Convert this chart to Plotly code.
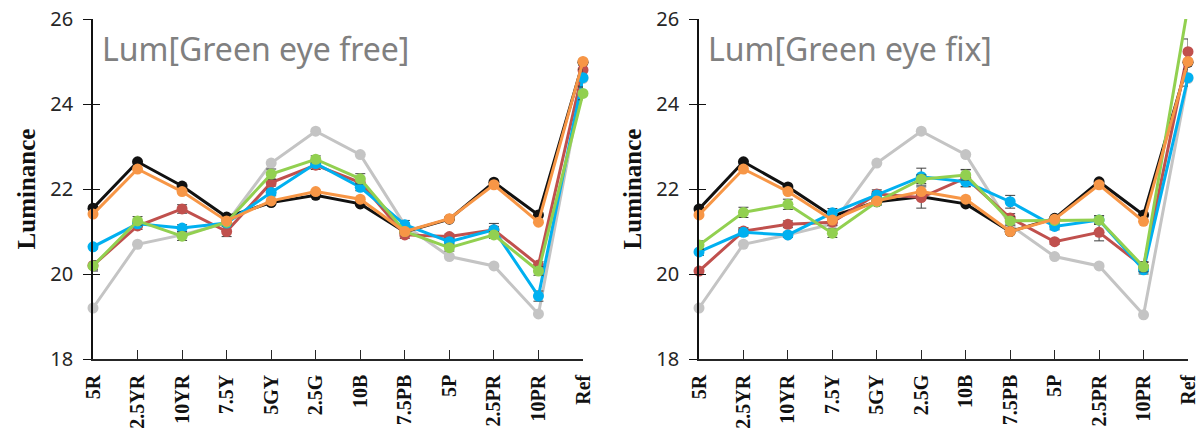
import plotly.graph_objects as go

# Munsell hue categories on the x axis
categories = ["5R", "2.5YR", "10YR", "7.5Y", "5GY", "2.5G", "10B",
              "7.5PB", "5P", "2.5PR", "10PR", "Ref"]
y_ticks = [18, 20, 22, 24, 26]

# ---- Lum[Green eye free] ----
free_black = [21.55, 22.64, 22.07, 21.34, 21.68, 21.85, 21.65, 20.99, 21.29, 22.16, 21.39, 24.98]
free_orange = [21.41, 22.47, 21.94, 21.25, 21.72, 21.94, 21.76, 21.00, 21.30, 22.10, 21.22, 25.00]
free_gray = [19.20, 20.70, 20.92, 21.20, 22.61, 23.36, 22.81, 21.15, 20.41, 20.19, 19.06, 24.60]
free_green = [20.19, 21.25, 20.89, 21.22, 22.35, 22.70, 22.24, 21.00, 20.62, 20.92, 20.07, 24.25]
free_red = [20.20, 21.13, 21.53, 21.00, 22.15, 22.56, 22.15, 20.92, 20.88, 21.04, 20.21, 24.80]
free_blue = [20.64, 21.18, 21.08, 21.20, 21.92, 22.60, 22.04, 21.16, 20.76, 21.04, 19.48, 24.62]
free_green_err = [0.12, 0.10, 0.10, 0.05, 0.12, 0.08, 0.12, 0.05, 0.08, 0.08, 0.10, 0.15]
free_red_err = [0.10, 0.08, 0.10, 0.12, 0.08, 0.10, 0.08, 0.08, 0.06, 0.08, 0.08, 0.12]
free_blue_err = [0.05, 0.05, 0.08, 0.05, 0.08, 0.05, 0.08, 0.10, 0.08, 0.15, 0.12, 0.20]

# ---- Lum[Green eye fix] ----
fix_black = [21.53, 22.64, 22.05, 21.36, 21.70, 21.82, 21.65, 21.00, 21.31, 22.17, 21.39, 24.98]
fix_orange = [21.39, 22.47, 21.94, 21.27, 21.72, 21.94, 21.76, 21.00, 21.29, 22.10, 21.24, 25.00]
fix_gray = [19.20, 20.70, 20.92, 21.18, 22.61, 23.36, 22.81, 21.15, 20.41, 20.19, 19.04, 24.60]
fix_green = [20.68, 21.45, 21.64, 20.96, 21.70, 22.23, 22.33, 21.25, 21.26, 21.27, 20.17, 26.30]
fix_red = [20.07, 21.01, 21.17, 21.22, 21.88, 21.80, 22.26, 21.32, 20.76, 20.98, 20.17, 25.23]
fix_blue = [20.52, 20.98, 20.92, 21.44, 21.86, 22.29, 22.17, 21.70, 21.12, 21.27, 20.10, 24.62]
fix_green_err = [0.10, 0.12, 0.12, 0.10, 0.08, 0.10, 0.12, 0.10, 0.06, 0.10, 0.12, 0.15]
fix_red_err = [0.08, 0.08, 0.08, 0.08, 0.10, 0.25, 0.20, 0.10, 0.06, 0.20, 0.10, 0.30]
fix_blue_err = [0.08, 0.08, 0.06, 0.10, 0.08, 0.20, 0.12, 0.15, 0.08, 0.10, 0.10, 0.20]

C_BLACK = "#111111"
C_ORANGE = "#F79646"
C_GRAY = "#C4C4C4"
C_GREEN = "#92D050"
C_RED = "#C0504D"
C_BLUE = "#00B0F0"
ERR_COLOR = "#3F3F3F"

W, H = 1197, 432
PLOT_TOP, PLOT_BOTTOM = 19, 359
panels = [
    dict(name="Lum[Green eye free]", left=93, right=583, xa="x", ya="y", ya_in="y3",
         series=[(free_gray, C_GRAY, None), (free_black, C_BLACK, None),
                 (free_red, C_RED, free_red_err), (free_blue, C_BLUE, free_blue_err),
                 (free_green, C_GREEN, free_green_err), (free_orange, C_ORANGE, None)]),
    dict(name="Lum[Green eye fix]", left=699, right=1188, xa="x2", ya="y2", ya_in="y4",
         series=[(fix_gray, C_GRAY, None), (fix_black, C_BLACK, None),
                 (fix_red, C_RED, fix_red_err), (fix_blue, C_BLUE, fix_blue_err),
                 (fix_green, C_GREEN, fix_green_err), (fix_orange, C_ORANGE, None)]),
]

fig = go.Figure()
for p in panels:
    for vals, color, err in p["series"]:
        # the green "fix" series overshoots the top of the scale at Ref
        clip = vals is fix_green
        fig.add_trace(go.Scatter(
            x=categories, y=vals, mode="lines+markers",
            xaxis=p["xa"], yaxis=p["ya"],
            line=dict(color=color, width=3),
            marker=dict(color=color, size=11),
            error_y=None if err is None else dict(
                type="data", array=err, visible=True,
                color=ERR_COLOR, thickness=1, width=5),
            cliponaxis=clip, showlegend=False, hoverinfo="skip",
        ))
    # empty trace that registers the overlay axis carrying the inner y ticks
    fig.add_trace(go.Scatter(x=[], y=[], xaxis=p["xa"], yaxis=p["ya_in"],
                             showlegend=False, hoverinfo="skip"))

ydom = [1 - PLOT_BOTTOM / H, 1 - PLOT_TOP / H]
tick_font = dict(family="Noto Sans", size=20, color="#262626")
cat_font = dict(family="Liberation Serif", size=20, color="#111111", weight="bold")

layout = dict(
    width=W, height=H,
    margin=dict(l=0, r=0, t=0, b=0),
    paper_bgcolor="white", plot_bgcolor="white",
    showlegend=False,
)
for i, p in enumerate(panels):
    xs = "" if i == 0 else "2"
    ys = "" if i == 0 else "2"
    yin = "3" if i == 0 else "4"
    xdom = [p["left"] / W, p["right"] / W]
    layout["xaxis" + xs] = dict(
        domain=xdom, anchor="y" + ys, type="category",
        range=[0, len(categories) - 1],
        showgrid=False, zeroline=False,
        showline=True, linecolor="#262626", linewidth=1.5,
        ticks="inside", ticklen=9, tickwidth=1.2, tickcolor="#262626",
        tickangle=-90, tickfont=cat_font, ticklabelstandoff=6,
        automargin=False,
    )
    layout["yaxis" + ys] = dict(
        domain=ydom, anchor="x" + xs, range=[18, 26],
        tickvals=y_ticks, ticktext=[str(v) for v in y_ticks],
        showgrid=False, zeroline=False,
        showline=True, linecolor="#111111", linewidth=1.5,
        ticks="outside", ticklen=8, tickwidth=1.2, tickcolor="#111111",
        tickfont=tick_font, ticklabelstandoff=6,
        title=dict(text="Luminance", standoff=8,
                   font=dict(family="Liberation Serif", size=25,
                             color="#111111", weight="bold")),
        automargin=False,
    )
    layout["yaxis" + yin] = dict(
        domain=ydom, anchor="x" + xs, overlaying="y" + ys, side="left",
        range=[18, 26], tickvals=y_ticks, showticklabels=False,
        showgrid=False, zeroline=False, showline=False,
        ticks="inside", ticklen=7, tickwidth=1.2, tickcolor="#111111",
        automargin=False,
    )

fig.update_layout(**layout)

for p in panels:
    fig.add_annotation(
        text=p["name"], showarrow=False,
        xref=p["xa"] + " domain", yref="paper",
        x=0.015, y=1 - 48 / H, xanchor="left", yanchor="middle",
        font=dict(family="Noto Sans", size=32, color="#808080"),
    )

fig.write_html("out.html")
